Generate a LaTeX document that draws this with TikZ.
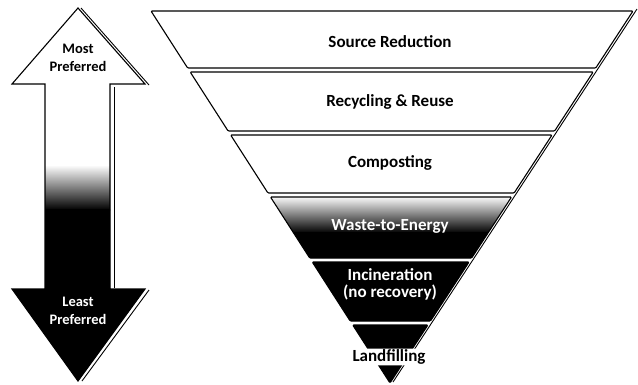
\documentclass[tikz,border=0pt]{standalone}
\usepackage{fontspec}
\setmainfont{Carlito}
\newcommand\trapath[2]{%
 \pgfmathsetmacro\tla{151+(#1-11)*0.6425}%
 \pgfmathsetmacro\tra{633-(#1-11)*0.6532}%
 \pgfmathsetmacro\tlb{151+(#2-11)*0.6425}%
 \pgfmathsetmacro\trb{633-(#2-11)*0.6532}%
}
\begin{document}
\begin{tikzpicture}[x=1pt,y=-1pt,
  bandline/.style={draw=black,line width=1.1pt,rounded corners=1pt},
  shadowline/.style={draw=black,line width=0.9pt},
  lbl/.style={font=\fontsize{17}{17}\selectfont\bfseries,align=center,inner sep=0pt},
  albl/.style={font=\fontsize{14.5}{18}\selectfont\bfseries,align=center,inner sep=0pt}]
\useasboundingbox (0,0) rectangle (638,384);
\fill[white] (0,0) rectangle (638,384);

% ---------- left double arrow ----------
\begin{scope}
\clip (78,8) -- (145,84) -- (110,84) -- (110,289) -- (145,289) -- (78,381)
      -- (12,289) -- (45,289) -- (45,84) -- (12,84) -- cycle;
\fill[white] (0,0) rectangle (160,166);
\shade[top color=white,bottom color=black] (0,165) rectangle (160,210);
\fill[black] (0,209) rectangle (160,384);
\end{scope}
\draw[line width=1.1pt,line join=miter]
  (78,8) -- (145,84) -- (110,84) -- (110,289) -- (145,289) -- (78,381)
  -- (12,289) -- (45,289) -- (45,84) -- (12,84) -- cycle;
\draw[shadowline] (81,8) -- (149,85);
\draw[shadowline] (114,87) -- (114,288);
\draw[shadowline] (149,290) -- (82,381);
\node[albl] (most) at (78,58) {Most\\Preferred};
\node[albl,text=white] (least) at (78,311) {Least\\Preferred};

% ---------- inverted pyramid ----------
\trapath{11}{68}
\draw[bandline,fill=white] (\tla,11) -- (\tra,11) -- (\trb,68) -- (\tlb,68) -- cycle;
\trapath{72}{131}
\draw[bandline,fill=white] (\tla,72) -- (\tra,72) -- (\trb,131) -- (\tlb,131) -- cycle;
\trapath{135}{193}
\draw[bandline,fill=white] (\tla,135) -- (\tra,135) -- (\trb,193) -- (\tlb,193) -- cycle;
\trapath{197}{258}
\begin{scope}
\clip (\tla,197) -- (\tra,197) -- (\trb,258) -- (\tlb,258) -- cycle;
\shade[top color=white,bottom color=black] (260,196) rectangle (530,233);
\fill[black] (260,232) rectangle (530,260);
\end{scope}
\draw[bandline] (\tla,197) -- (\tra,197) -- (\trb,258) -- (\tlb,258) -- cycle;
\trapath{262}{321}
\draw[bandline,fill=black] (\tla,262) -- (\tra,262) -- (\trb,321) -- (\tlb,321) -- cycle;
\trapath{325}{383}
\draw[bandline,fill=black] (\tla,325) -- (\tra,325) -- (390,383) -- cycle;
\draw[shadowline] (637,9) -- (393,382);

\node[lbl] (src) at (390,42) {Source Reduction};
\node[lbl] (rec) at (390,102) {Recycling \& Reuse};
\node[lbl] (comp) at (390,163) {Composting};
\node[lbl,text=white] (wte) at (390,226) {Waste-to-Energy};
\node[lbl,text=white] (inc) at (390,284) {Incineration\\(no recovery)};
\node[lbl,fill=white,rounded corners=3pt,inner xsep=2pt,inner ysep=1pt] (land) at (389,357) {Landfilling};
\end{tikzpicture}
\end{document}
